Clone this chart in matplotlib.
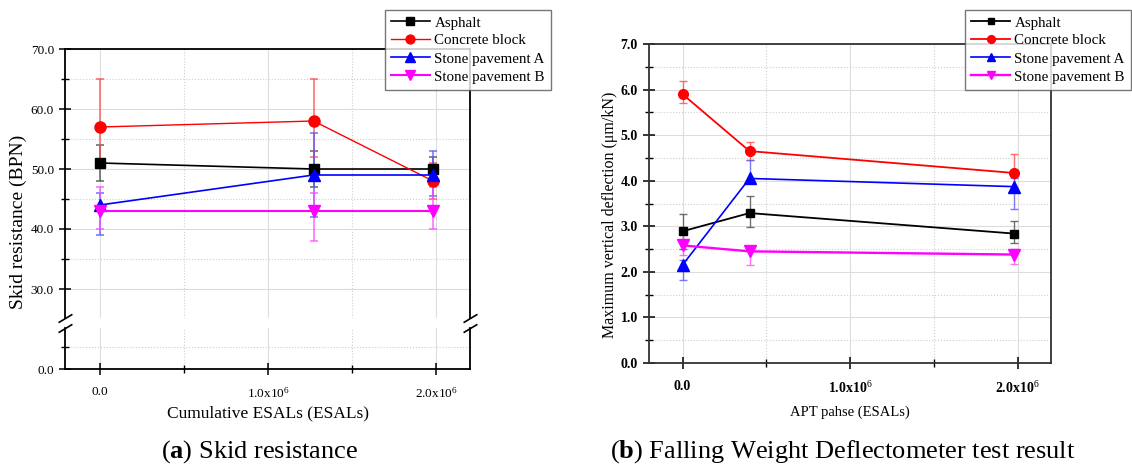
import matplotlib
matplotlib.use('Agg')
import matplotlib.pyplot as plt
from matplotlib.ticker import FixedLocator, FixedFormatter

plt.rcParams['font.family'] = ['Liberation Serif', 'DejaVu Serif']
plt.rcParams['mathtext.fontset'] = 'custom'
plt.rcParams['mathtext.rm'] = 'Liberation Serif'
plt.rcParams['mathtext.it'] = 'Liberation Serif:italic'
plt.rcParams['mathtext.bf'] = 'Liberation Serif:bold'

# ---- (a) skid resistance data ----
esals_a = [0, 1.27e6, 1.98e6]
asphalt_a = [51, 50, 50]
asphalt_a_lo = [3, 3, 2]
asphalt_a_hi = [3, 3, 2]
concrete_a = [57, 58, 48]
concrete_a_lo = [6, 6, 3]
concrete_a_hi = [8, 7, 3]
stoneA_a = [44, 49, 49]
stoneA_a_lo = [5, 7, 3.5]
stoneA_a_hi = [2, 7, 4]
stoneB_a = [43, 43, 43]
stoneB_a_lo = [3, 5, 3]
stoneB_a_hi = [4, 3, 4]

# ---- (b) FWD data ----
esals_b = [0, 0.4e6, 1.98e6]
asphalt_b = [2.89, 3.29, 2.84]
asphalt_b_lo = [0.39, 0.31, 0.2]
asphalt_b_hi = [0.39, 0.38, 0.28]
concrete_b = [5.9, 4.65, 4.17]
concrete_b_lo = [0.2, 0.2, 0.4]
concrete_b_hi = [0.29, 0.19, 0.41]
stoneA_b = [2.15, 4.05, 3.87]
stoneA_b_lo = [0.32, 0.1, 0.5]
stoneA_b_hi = [0.1, 0.4, 0.2]
stoneB_b = [2.58, 2.45, 2.38]
stoneB_b_lo = [0.2, 0.3, 0.2]
stoneB_b_hi = [0.37, 0.1, 0.12]

names = ['Asphalt', 'Concrete block', 'Stone pavement A', 'Stone pavement B']
colors = ['black', 'red', 'blue', 'magenta']
ecolors = [(0.3, 0.3, 0.3, 0.8), (1, 0.3, 0.3, 0.8), (0.35, 0.35, 1, 0.8), (1, 0.3, 1, 0.8)]
markers = ['s', 'o', '^', 'v']
xtick_pos = [0, 1e6, 2e6]
xtick_lab = ['0.0', '1.0x10$^{6}$', '2.0x10$^{6}$']

W, H = 1132, 470
fig = plt.figure(figsize=(W / 100, H / 100), dpi=100)


def px(l, t, r, b):
    return [l / W, 1 - b / H, (r - l) / W, (b - t) / H]


def style(ax, spine_color='black'):
    for s in ax.spines.values():
        s.set_color(spine_color)
        s.set_linewidth(1.3)
    ax.grid(True, which='major', color='#dcdcdc', lw=0.8)
    ax.grid(True, which='minor', color='#cfcfcf', lw=0.8, ls=':')
    ax.set_axisbelow(True)
    ax.tick_params(which='major', direction='inout', length=8, width=1.1)
    ax.tick_params(which='minor', direction='inout', length=6, width=1.0)


def xaxis(ax, fs, bold=False):
    ax.xaxis.set_major_locator(FixedLocator(xtick_pos))
    ax.xaxis.set_major_formatter(FixedFormatter(xtick_lab))
    ax.xaxis.set_minor_locator(FixedLocator([0.5e6, 1.5e6]))
    ax.tick_params(axis='x', labelsize=fs, pad=8)
    if bold:
        for t in ax.get_xticklabels():
            t.set_fontweight('bold')


def add_legend(ax, x0):
    h, l = ax.get_legend_handles_labels()
    h = [c.lines[0] for c in h]
    leg = ax.legend(h, l, loc='upper left', bbox_to_anchor=(x0 / W, 1 - 10 / H),
                    bbox_transform=fig.transFigure, fontsize=10.8, frameon=True,
                    fancybox=False, edgecolor='#555555', handlelength=2.6,
                    handletextpad=0.3, labelspacing=0.3, borderpad=0.4,
                    borderaxespad=0, markerscale=0.8)
    leg.get_frame().set_linewidth(1.0)
    leg.set_zorder(10)


# ============ panel (a) with broken y axis ============
ax_hi = fig.add_axes(px(65, 49, 470, 318))
ax_lo = fig.add_axes(px(65, 328, 470, 369), sharex=ax_hi)
for ax in (ax_hi, ax_lo):
    style(ax)
ax_hi.spines['bottom'].set_visible(False)
ax_lo.spines['top'].set_visible(False)
ax_hi.set_ylim(70 - (318 - 49) / 6, 70)
ax_lo.set_ylim(0, 9.3)
ax_hi.yaxis.set_major_locator(FixedLocator([30, 40, 50, 60, 70]))
ax_hi.yaxis.set_minor_locator(FixedLocator([35, 45, 55, 65]))
ax_hi.yaxis.set_major_formatter(FixedFormatter(['30.0', '40.0', '50.0', '60.0', '70.0']))
ax_lo.yaxis.set_major_locator(FixedLocator([0]))
ax_lo.yaxis.set_major_formatter(FixedFormatter(['0.0']))
ax_lo.yaxis.set_minor_locator(FixedLocator([5]))
ax_hi.tick_params(axis='x', which='both', bottom=False, labelbottom=False)
ax_hi.tick_params(axis='y', labelsize=9.5, pad=4)
ax_lo.tick_params(axis='y', labelsize=9.5, pad=4)
ax_hi.set_xlim(-0.208e6, 2.2e6)
xaxis(ax_lo, 9.5)

series_a = [(asphalt_a, asphalt_a_lo, asphalt_a_hi, 1.2, 7),
            (concrete_a, concrete_a_lo, concrete_a_hi, 1.0, 8),
            (stoneA_a, stoneA_a_lo, stoneA_a_hi, 1.2, 9),
            (stoneB_a, stoneB_a_lo, stoneB_a_hi, 1.5, 9)]
for (y, lo, hi, lw, ms), c, ec, m, n in zip(series_a, colors, ecolors, markers, names):
    ax_hi.errorbar(esals_a, y, yerr=[lo, hi], color=c, ecolor=ec, marker=m, ms=ms,
                   lw=lw, elinewidth=1.2, capsize=3, capthick=1.2, label=n)

# break marks
kw = dict(marker=[(-1, -0.6), (1, 0.6)], markersize=10, linestyle='none',
          color='k', mec='k', mew=1.2, clip_on=False)
ax_hi.plot([0, 1], [0, 0], transform=ax_hi.transAxes, **kw)
ax_lo.plot([0, 1], [1, 1], transform=ax_lo.transAxes, **kw)

fig.text(18 / W, 1 - 222 / H, 'Skid resistance (BPN)', rotation=90,
         ha='center', va='center', fontsize=14)
fig.text(268 / W, 1 - 413 / H, 'Cumulative ESALs (ESALs)',
         ha='center', va='center', fontsize=12.5)
fig.text(260 / W, 1 - 452 / H, r'($\mathbf{a}$) Skid resistance',
         ha='center', va='center', fontsize=19)
add_legend(ax_hi, 385)

# ============ panel (b) ============
axb = fig.add_axes(px(649, 44, 1051, 363))
style(axb, '#333333')
axb.set_xlim(-0.2e6, 2.2e6)
axb.set_ylim(0, 7)
axb.yaxis.set_major_locator(FixedLocator([0, 1, 2, 3, 4, 5, 6, 7]))
axb.yaxis.set_major_formatter(FixedFormatter(['0.0', '1.0', '2.0', '3.0', '4.0', '5.0', '6.0', '7.0']))
axb.yaxis.set_minor_locator(FixedLocator([0.5, 1.5, 2.5, 3.5, 4.5, 5.5, 6.5]))
axb.tick_params(axis='y', labelsize=10, pad=4)
for t in axb.get_yticklabels():
    t.set_fontweight('bold')
xaxis(axb, 10, bold=True)

series_b = [(asphalt_b, asphalt_b_lo, asphalt_b_hi, 1.3, 6),
            (concrete_b, concrete_b_lo, concrete_b_hi, 1.3, 7),
            (stoneA_b, stoneA_b_lo, stoneA_b_hi, 1.2, 8),
            (stoneB_b, stoneB_b_lo, stoneB_b_hi, 1.7, 8)]
for (y, lo, hi, lw, ms), c, ec, m, n in zip(series_b, colors, ecolors, markers, names):
    axb.errorbar(esals_b, y, yerr=[lo, hi], color=c, ecolor=ec, marker=m, ms=ms,
                 lw=lw, elinewidth=1.0, capsize=3, capthick=1.0, label=n)

fig.text(610 / W, 1 - 215 / H, 'Maximum vertical deflection (\u03bcm/kN)', rotation=90,
         ha='center', va='center', fontsize=11.5)
fig.text(850 / W, 1 - 412 / H, 'APT pahse (ESALs)',
         ha='center', va='center', fontsize=10.5)
fig.text(843 / W, 1 - 452 / H, r'($\mathbf{b}$) Falling Weight Deflectometer test result',
         ha='center', va='center', fontsize=19)
add_legend(axb, 965)

fig.savefig('out.png', dpi=100, facecolor='white')
